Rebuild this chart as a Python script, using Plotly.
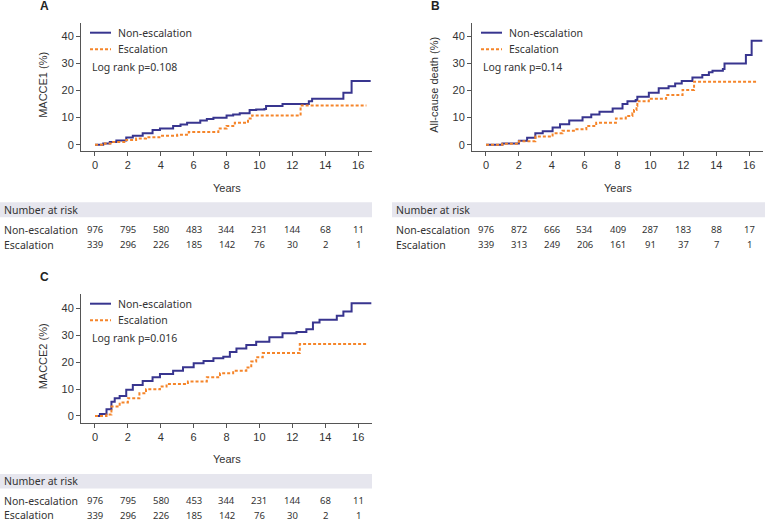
import plotly.graph_objects as go

W, H = 766, 522

# ---------------- data ----------------
group_names = ["Non-escalation", "Escalation"]
risk_times = [0, 2, 4, 6, 8, 10, 12, 14, 16]

# Panel A: MACCE1
a_non_t = [0, 0.5, 0.9, 1.3, 1.9, 2.3, 2.9, 3.5, 3.95, 4.75, 5.2, 5.6, 6.4, 6.8, 7.2, 8.0, 8.4, 8.8, 9.4, 9.8, 10.3, 10.4, 11.4, 13.0, 13.2, 15.1, 15.6, 16.76]
a_non_v = [0, 0.5, 1.0, 1.6, 2.7, 3.3, 4.2, 5.4, 6.0, 6.9, 7.5, 8.1, 8.9, 9.5, 10.0, 10.8, 11.2, 11.6, 12.8, 13.0, 13.2, 14.3, 15.0, 16.0, 17.0, 19.2, 23.5, 23.5]
a_esc_t = [0, 0.6, 1.1, 1.9, 2.5, 3.1, 4.0, 5.0, 5.7, 7.5, 8.0, 8.5, 9.3, 9.55, 12.5, 16.5]
a_esc_v = [0, 0.5, 1.0, 1.8, 2.3, 2.8, 3.3, 3.7, 4.7, 6.0, 6.9, 8.1, 9.7, 10.8, 14.5, 14.5]

# Panel B: All-cause death
b_non_t = [0, 1.0, 2.0, 2.5, 3.0, 3.45, 4.05, 4.5, 5.06, 5.87, 6.4, 6.9, 7.7, 8.3, 8.6, 9.1, 9.2, 9.9, 10.5, 11.1, 11.5, 11.9, 12.55, 13.15, 13.55, 13.77, 14.4, 14.5, 15.8, 16.15, 16.8]
b_non_v = [0, 0.5, 1.5, 2.6, 4.2, 5.0, 6.4, 7.6, 8.9, 10.1, 11.2, 12.2, 13.4, 15.0, 16.0, 16.5, 17.7, 19.2, 20.8, 21.6, 22.6, 23.5, 24.8, 25.7, 26.7, 27.3, 27.9, 30.0, 33.1, 38.3, 38.3]
b_esc_t = [0, 1.0, 2.0, 3.0, 4.05, 4.65, 5.5, 6.1, 6.7, 7.9, 8.5, 8.9, 9.0, 9.15, 9.2, 9.9, 10.95, 11.95, 12.65, 16.5]
b_esc_v = [0, 0.4, 1.3, 3.0, 4.2, 5.2, 5.7, 6.9, 8.1, 9.7, 10.6, 11.6, 12.8, 14.3, 16.0, 17.0, 18.3, 20.2, 23.2, 23.2]

# Panel C: MACCE2
c_non_t = [0, 0.3, 0.7, 1.0, 1.2, 1.5, 1.9, 2.3, 2.9, 3.5, 3.95, 4.75, 5.35, 6.0, 6.6, 7.2, 7.8, 8.2, 8.6, 9.2, 9.8, 10.6, 11.4, 12.25, 12.85, 13.25, 13.65, 14.7, 15.1, 15.6, 16.8]
c_non_v = [0, 0.7, 2.5, 5.3, 6.6, 7.4, 9.7, 11.5, 13.0, 14.4, 15.6, 16.8, 18.1, 19.6, 20.4, 21.4, 22.0, 23.8, 25.1, 26.4, 27.6, 29.2, 30.7, 31.2, 32.2, 34.7, 35.7, 37.2, 38.8, 41.9, 41.9]
c_esc_t = [0, 0.7, 1.0, 1.5, 2.0, 2.7, 3.1, 3.95, 4.35, 5.65, 6.8, 7.6, 8.4, 9.2, 9.5, 9.8, 10.2, 12.45, 16.5]
c_esc_v = [0, 0.5, 3.5, 5.0, 6.6, 8.4, 9.9, 10.9, 11.9, 12.8, 14.4, 15.9, 16.8, 18.0, 20.2, 21.8, 23.4, 26.7, 26.7]

a_risk_non = [976, 795, 580, 483, 344, 231, 144, 68, 11]
a_risk_esc = [339, 296, 226, 185, 142, 76, 30, 2, 1]
b_risk_non = [976, 872, 666, 534, 409, 287, 183, 88, 17]
b_risk_esc = [339, 313, 249, 206, 161, 91, 37, 7, 1]
c_risk_non = [976, 795, 580, 453, 344, 231, 144, 68, 11]
c_risk_esc = [339, 296, 226, 185, 142, 76, 30, 2, 1]

y_titles = ["MACCE1 (%)", "All-cause death (%)", "MACCE2 (%)"]
p_texts = ["Log rank p=0.108", "Log rank p=0.14", "Log rank p=0.016"]
panel_letters = ["A", "B", "C"]

# ---------------- style ----------------
NAVY = "#38358f"
ORANGE = "#f5852a"
AXC = "#555555"
TICKF = dict(family="Liberation Sans, Arial, sans-serif", size=11, color="#333333")
TXTF = dict(family="Noto Sans, sans-serif", size=10.5, color="#333333")
NUMF = dict(family="Noto Sans, sans-serif", size=9.5, color="#333333")

def px(x):
    return x / W

def py(y):
    return 1 - y / H

# panel geometry in pixels: plot left, right, top, bottom, y range
panels = [
    dict(l=81, r=372, t=22.7, b=151, yr=[-2.3, 45.0], ox=0, oy=0,
         band=(0, 372, 202.3, 217.3), rows=(229.5, 245.0), lab=2,
         data=(a_non_t, a_non_v, a_esc_t, a_esc_v), risk=(a_risk_non, a_risk_esc)),
    dict(l=472, r=763, t=22.7, b=151, yr=[-2.3, 45.0], ox=391, oy=0,
         band=(392, 765, 202.3, 217.3), rows=(229.5, 245.0), lab=394,
         data=(b_non_t, b_non_v, b_esc_t, b_esc_v), risk=(b_risk_non, b_risk_esc)),
    dict(l=81, r=372, t=294, b=422.7, yr=[-2.5, 45.3], ox=0, oy=271,
         band=(0, 372, 474, 488.5), rows=(500.5, 515.0), lab=2,
         data=(c_non_t, c_non_v, c_esc_t, c_esc_v), risk=(c_risk_non, c_risk_esc)),
]

fig = go.Figure()
shapes = []
annotations = []

for i, p in enumerate(panels):
    k = "" if i == 0 else str(i + 1)
    xa, ya = "x" + k, "y" + k
    nt, nv, et, ev = p["data"]
    fig.add_trace(go.Scatter(x=nt, y=nv, mode="lines", line_shape="hv",
                             line=dict(color=NAVY, width=2), xaxis=xa, yaxis=ya,
                             name=group_names[0], showlegend=False))
    fig.add_trace(go.Scatter(x=et, y=ev, mode="lines", line_shape="hv",
                             line=dict(color=ORANGE, width=2, dash="3px,2px"), xaxis=xa, yaxis=ya,
                             name=group_names[1], showlegend=False))
    axis_common = dict(showline=True, linecolor=AXC, linewidth=1, ticks="outside",
                       ticklen=4, tickcolor=AXC, tickfont=TICKF, showgrid=False,
                       zeroline=False, fixedrange=True)
    fig.layout["xaxis" + k] = dict(axis_common, domain=[px(p["l"]), px(p["r"])],
                                   range=[-0.85, 16.84], tickvals=risk_times,
                                   anchor=ya)
    fig.layout["yaxis" + k] = dict(axis_common, domain=[py(p["b"]), py(p["t"])],
                                   range=p["yr"], tickvals=[0, 10, 20, 30, 40],
                                   anchor=xa)
    ox, oy = p["ox"], p["oy"]
    # legend inside plot
    for j, (col, dash) in enumerate([(NAVY, "solid"), (ORANGE, "3px,2px")]):
        yy = 32.7 + oy + j * 16.6
        shapes.append(dict(type="line", xref="paper", yref="paper",
                           x0=px(90 + ox), x1=px(111 + ox), y0=py(yy), y1=py(yy),
                           line=dict(color=col, width=2, dash=dash)))
        annotations.append(dict(text=group_names[j], xref="paper", yref="paper",
                                x=px(116 + ox), y=py(yy), xanchor="left", yanchor="middle",
                                showarrow=False, font=TXTF))
    annotations.append(dict(text=p_texts[i], xref="paper", yref="paper",
                            x=px(90 + ox), y=py(67.3 + oy), xanchor="left", yanchor="middle",
                            showarrow=False, font=TXTF))
    # panel letter
    annotations.append(dict(text="<b>" + panel_letters[i] + "</b>", xref="paper", yref="paper",
                            x=px(44 + ox), y=py(6 + oy), xanchor="center", yanchor="middle",
                            showarrow=False,
                            font=dict(family="Liberation Sans, Arial, sans-serif", size=12, color="#222222")))
    # axis titles
    annotations.append(dict(text="Years", xref="paper", yref="paper",
                            x=px((p["l"] + p["r"]) / 2), y=py(p["b"] + 36.5), xanchor="center",
                            yanchor="middle", showarrow=False, font=TICKF))
    annotations.append(dict(text=y_titles[i], xref="paper", yref="paper", textangle=-90,
                            x=px(p["l"] - 38), y=py((p["t"] + p["b"]) / 2 - 2), xanchor="center",
                            yanchor="middle", showarrow=False, font=TICKF))
    # number at risk table
    bx0, bx1, by0, by1 = p["band"]
    shapes.append(dict(type="rect", xref="paper", yref="paper", x0=px(bx0), x1=px(bx1),
                       y0=py(by1), y1=py(by0), fillcolor="#e6e6ee", line=dict(width=0),
                       layer="below"))
    annotations.append(dict(text="Number at risk", xref="paper", yref="paper",
                            x=px(p["lab"]), y=py((by0 + by1) / 2), xanchor="left",
                            yanchor="middle", showarrow=False, font=TXTF))
    for j in range(2):
        yy = p["rows"][j]
        annotations.append(dict(text=group_names[j], xref="paper", yref="paper",
                                x=px(p["lab"]), y=py(yy), xanchor="left", yanchor="middle",
                                showarrow=False, font=TXTF))
        for t, n in zip(risk_times, p["risk"][j]):
            annotations.append(dict(text=str(n), xref=xa, yref="paper", x=t, y=py(yy),
                                    xanchor="center", yanchor="middle", showarrow=False,
                                    font=NUMF))

fig.update_layout(width=W, height=H, margin=dict(l=0, r=0, t=0, b=0),
                  paper_bgcolor="white", plot_bgcolor="white",
                  shapes=shapes, annotations=annotations, showlegend=False)

fig.write_html("out.html", config={"displayModeBar": False},
               post_script="document.body.style.margin='0';document.body.style.overflow='hidden';")
